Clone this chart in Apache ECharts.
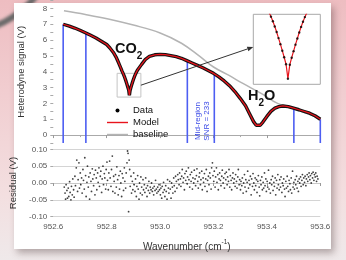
<!DOCTYPE html>
<html>
<head>
<meta charset="utf-8">
<script src="https://cdn.jsdelivr.net/npm/echarts@6/dist/echarts.min.js"></script>
<style>
  html, body { margin: 0; padding: 0; }
  body {
    width: 346px; height: 260px; overflow: hidden; position: relative;
    background: linear-gradient(180deg, #eebdc1 0%, #f1cdd0 35%, #f3dfe0 75%, #efe9ea 100%);
  }
  #arc {
    position: absolute; left: -150px; top: -175px; width: 200px; height: 200px;
    border-radius: 50%; border: 6px solid #6a6a6a; filter: blur(1.5px);
  }
  #panel {
    position: absolute; left: 14px; top: 3px; width: 317px; height: 246px;
    background: #fff; box-shadow: 3px 4px 7px rgba(60, 40, 40, 0.35);
  }
  #chart { position: absolute; left: 0; top: 0; width: 346px; height: 260px; }
</style>
</head>
<body>
<div id="arc"></div>
<div id="panel"></div>
<div id="chart"></div>
<script>
// measured signal / model (V) vs wavenumber (cm-1)
const wavenumber = [952.637, 952.66, 952.68, 952.70, 952.722, 952.74, 952.76, 952.78, 952.80, 952.812,
  952.825, 952.835, 952.845, 952.8525, 952.855, 952.8575, 952.86, 952.8625, 952.865, 952.8675,
  952.87, 952.8725, 952.875, 952.8775, 952.88, 952.8825, 952.885, 952.8875, 952.89, 952.8925,
  952.895, 952.8975, 952.90, 952.9025, 952.905, 952.9075, 952.91, 952.9125, 952.915, 952.92,
  952.93, 952.945, 952.96, 952.98, 953.00, 953.02, 953.04, 953.06, 953.08, 953.10,
  953.12, 953.14, 953.16, 953.18, 953.20, 953.22, 953.24, 953.26, 953.28, 953.30,
  953.32, 953.335, 953.35, 953.36, 953.367, 953.375, 953.385, 953.40, 953.415, 953.43,
  953.445, 953.46, 953.48, 953.50, 953.52, 953.54, 953.56, 953.58, 953.60];
const signal = [7.00, 6.88, 6.76, 6.62, 6.45, 6.30, 6.13, 5.93, 5.72, 5.50,
  5.22, 4.93, 4.55, 4.25, 4.14, 4.04, 3.94, 3.85, 3.75, 3.64,
  3.52, 3.39, 3.26, 3.12, 2.98, 2.83, 2.52, 2.82, 2.97, 3.11,
  3.25, 3.38, 3.51, 3.63, 3.74, 3.84, 3.93, 4.02, 4.10, 4.20,
  4.45, 4.78, 4.97, 5.07, 5.10, 5.08, 5.02, 4.95, 4.85, 4.70,
  4.55, 4.40, 4.25, 4.08, 3.90, 3.68, 3.42, 3.12, 2.75, 2.32,
  1.85, 1.35, 0.85, 0.62, 0.56, 0.62, 0.82, 1.18, 1.50, 1.70,
  1.80, 1.84, 1.80, 1.70, 1.60, 1.49, 1.38, 1.22, 1.00];

// fitted baseline
const baselineWn = [952.64, 952.72, 952.81, 952.90, 953.00, 953.08, 953.15, 953.20, 953.26, 953.31, 953.38, 953.44, 953.52, 953.60];
const baselineVal = [7.85, 7.62, 7.32, 6.95, 6.45, 5.80, 4.95, 4.30, 3.75, 3.26, 2.62, 2.00, 1.55, 1.05];

// blue region markers
const markerWn = [952.637, 952.722, 953.102, 953.203, 953.501, 953.60];
const markerTop = [7.00, 6.45, 4.70, 3.90, 1.70, 1.00];

// zoom box for the CO2 line centre
const zoomWn = [952.839, 952.928];
const zoomSig = [2.4, 3.9];

// residual (V)
const residual = [
[952.641,-0.012],[952.644,-0.030],[952.646,-0.048],[952.648,-0.005],[952.651,-0.022],[952.653,-0.045],[952.656,-0.015],[952.658,-0.040],[952.661,0.004],[952.663,-0.028],[952.666,-0.050],[952.668,-0.010],[952.671,-0.035],[952.673,0.012],[952.676,-0.020],[952.678,-0.042],[952.681,0.020],[952.683,-0.008],[952.686,0.045],[952.688,0.068],[952.691,-0.025],[952.693,0.010],[952.696,0.060],[952.698,-0.015],
[952.701,0.030],[952.703,-0.005],[952.706,0.015],[952.708,-0.030],[952.711,0.040],[952.713,0.008],[952.716,-0.018],[952.718,0.075],[952.721,0.022],[952.723,-0.040],[952.726,0.002],[952.728,0.050],[952.731,-0.012],[952.733,0.018],[952.736,-0.048],[952.738,0.030],[952.741,0.005],[952.743,-0.025],[952.746,0.042],[952.748,0.012],[952.751,-0.008],[952.753,0.025],[952.756,-0.035],[952.758,0.038],[952.761,0.015],[952.763,-0.020],[952.766,0.030],[952.768,0.002],[952.771,0.045],[952.773,-0.010],[952.776,0.020],[952.778,0.035],[952.781,-0.028],[952.783,0.012],[952.786,0.050],[952.788,-0.005],[952.791,0.028],[952.793,0.015],[952.796,-0.018],[952.798,0.040],
[952.801,0.062],[952.803,0.008],[952.806,-0.020],[952.808,0.030],[952.811,0.065],[952.813,0.015],[952.816,-0.010],[952.818,0.040],[952.821,0.080],[952.823,-0.025],[952.826,0.020],[952.828,0.005],[952.831,-0.030],[952.833,0.025],[952.836,-0.012],[952.838,0.048],[952.841,0.010],[952.843,-0.035],[952.846,0.022],[952.848,-0.018],[952.851,0.035],[952.853,0.000],[952.856,-0.040],[952.858,0.028],[952.861,0.015],[952.863,-0.022],[952.866,0.045],[952.868,0.005],[952.871,-0.015],[952.873,0.030],[952.876,0.060],[952.878,0.095],[952.880,0.088],[952.882,-0.085],[952.884,0.068],[952.886,0.040],[952.888,-0.010],[952.891,0.020],[952.893,-0.030],[952.896,0.005],[952.898,-0.020],
[952.901,0.030],[952.903,-0.005],[952.906,-0.025],[952.908,0.012],[952.911,-0.040],[952.913,-0.010],[952.916,0.022],[952.918,-0.018],[952.921,-0.048],[952.923,0.000],[952.926,-0.030],[952.928,0.018],[952.931,-0.012],[952.933,-0.035],[952.936,0.010],[952.938,-0.020],[952.941,-0.005],[952.943,-0.028],[952.946,0.015],[952.948,-0.015],[952.951,-0.040],[952.953,-0.008],[952.956,-0.022],[952.958,0.005],[952.961,-0.030],[952.963,-0.012],[952.966,-0.020],[952.968,0.000],[952.971,-0.025],[952.973,-0.015],[952.976,-0.035],[952.978,-0.010],[952.981,-0.022],[952.983,0.008],[952.986,-0.018],[952.988,-0.030],[952.991,-0.012],[952.993,-0.025],[952.996,-0.005],[952.998,-0.020],[953.001,-0.035],[953.003,-0.015],[953.006,-0.045],[953.008,-0.010],[953.011,-0.028],[953.013,0.002],[953.016,-0.020],[953.018,-0.040],[953.021,-0.008],[953.023,-0.025],[953.026,-0.048],[953.028,0.010],[953.031,-0.015],[953.033,-0.030],[953.036,0.005],[953.038,-0.018],[953.041,-0.045],[953.043,0.000],[953.046,-0.012],[953.048,-0.030],[953.051,0.015],[953.053,-0.008],[953.056,-0.025],[953.058,0.020],
[953.061,0.005],[953.063,-0.015],[953.066,0.025],[953.068,0.010],[953.071,-0.005],[953.073,0.030],[953.076,0.012],[953.078,-0.010],[953.081,0.020],[953.083,0.040],[953.086,0.002],[953.088,0.015],[953.091,-0.020],[953.093,0.028],[953.096,0.008],[953.098,0.035],[953.101,-0.002],[953.103,0.018],[953.106,0.045],[953.108,0.010],[953.111,-0.012],[953.113,0.025],[953.116,0.005],[953.118,0.032],[953.121,-0.018],[953.123,0.015],[953.126,0.000],[953.128,0.038],[953.131,0.012],[953.133,-0.008],[953.136,0.022],[953.138,0.042],[953.141,0.005],[953.143,-0.015],[953.146,0.018],[953.148,0.030],[953.151,-0.005],[953.153,0.010],[953.156,0.035],[953.158,-0.020],[953.161,0.015],[953.163,0.002],[953.166,0.028],[953.168,-0.010],[953.171,0.012],[953.173,0.040],[953.176,-0.025],[953.178,0.008],[953.181,0.020],[953.183,-0.005],[953.186,0.030],[953.188,0.015],[953.191,-0.018],[953.193,0.045],[953.196,0.060],[953.198,0.022],[953.201,0.005],[953.203,0.035],[953.206,-0.012],[953.208,0.018],[953.211,0.045],[953.213,0.002],[953.216,0.025],[953.218,-0.020],[953.221,0.012],[953.223,0.030],[953.226,0.008],[953.228,-0.008],[953.231,0.020],[953.233,0.038],[953.236,0.000],[953.238,0.015],[953.241,-0.015],[953.243,0.028],[953.246,0.010],[953.248,0.032],[953.251,-0.005],[953.253,0.018],[953.256,0.005],[953.258,0.040],[953.261,-0.012],[953.263,0.022],[953.266,0.008],[953.268,-0.020],[953.271,0.015],[953.273,0.030],[953.276,0.000],[953.278,0.012],[953.281,-0.010],[953.283,0.025],[953.286,0.005],[953.288,-0.015],[953.291,0.018],[953.293,0.040],[953.296,-0.005],[953.298,0.010],
[953.301,-0.020],[953.303,0.005],[953.306,-0.008],[953.308,0.015],[953.311,-0.030],[953.313,0.000],[953.316,0.025],[953.318,-0.012],[953.321,0.010],[953.323,-0.025],[953.326,0.002],[953.328,0.035],[953.331,-0.015],[953.333,0.008],[953.336,-0.005],[953.338,0.020],[953.341,-0.035],[953.343,0.012],[953.346,-0.010],[953.348,0.028],[953.351,0.000],[953.353,-0.020],[953.356,0.015],[953.358,-0.008],[953.361,0.010],[953.363,-0.028],[953.366,0.005],[953.368,0.022],[953.371,-0.012],[953.373,-0.038],[953.376,0.008],[953.378,-0.005],[953.381,0.018],[953.383,-0.020],[953.386,0.002],[953.388,-0.015],[953.391,0.030],[953.393,-0.008],[953.396,0.012],[953.398,-0.025],[953.401,0.005],[953.403,-0.012],[953.406,0.038],[953.408,-0.018],[953.411,0.000],[953.413,-0.030],[953.416,0.010],[953.418,-0.005],[953.421,0.020],[953.423,-0.022],[953.426,0.002],[953.428,-0.010],[953.431,0.015],[953.433,-0.035],[953.436,0.008],[953.438,-0.015],[953.441,0.025],[953.443,-0.005],[953.446,-0.020],[953.448,0.010],[953.451,-0.012],[953.453,0.018],[953.456,-0.028],[953.458,0.000],[953.461,-0.008],[953.463,0.012],[953.466,-0.018],[953.468,-0.040],[953.471,0.005],[953.473,-0.015],[953.476,0.020],[953.478,-0.010],[953.481,-0.025],[953.483,0.008],[953.486,-0.002],[953.488,-0.020],[953.491,0.015],[953.493,-0.030],[953.496,0.035],[953.498,-0.012],[953.501,0.002],[953.503,-0.018],[953.506,0.010],[953.508,-0.005],[953.511,0.020],[953.513,-0.015],[953.516,0.005],[953.518,-0.025],[953.521,0.012],[953.523,0.000],[953.526,0.018],[953.528,-0.010],[953.531,0.008],[953.533,0.025],[953.536,-0.005],[953.538,0.015],[953.541,0.002],[953.543,0.020],[953.546,-0.008],[953.548,0.012],
[953.551,0.025],[953.553,0.005],[953.556,0.018],[953.558,0.030],[953.561,0.010],[953.563,0.022],[953.566,0.000],[953.568,0.028],[953.571,0.015],[953.573,0.032],[953.576,0.008],[953.578,0.025],[953.581,0.018],[953.583,0.030],[953.586,0.005],[953.588,0.020],[953.591,0.012]
];

const FONT = 'Liberation Sans, Arial, sans-serif';
const LINE_ICON = 'path://M0,0L24,0L24,1.6L0,1.6Z';
const chart = echarts.init(document.getElementById('chart'), null, {renderer: 'canvas'});

const sigData = wavenumber.map((w, i) => [w, signal[i]]);
const baseData = baselineWn.map((w, i) => [w, baselineVal[i]]);

const option = {
    animation: false,
    textStyle: {fontFamily: FONT},
    legend: {
        orient: 'vertical',
        left: 102, top: 100,
        itemWidth: 21, itemHeight: 4, itemGap: 1,
        textStyle: {fontSize: 9.5, color: '#111', lineHeight: 11},
        data: [{name: 'Data', icon: 'circle'}, {name: 'Model', icon: LINE_ICON}, {name: 'baseline', icon: LINE_ICON}]
    },
    grid: [
        {left: 53.3, top: 0.5, width: 267, height: 142.5},
        {left: 53.3, top: 149.3, width: 267, height: 67.4},
        {left: 253.3, top: 14.3, width: 67, height: 70, show: true, borderColor: '#a8a8a8', borderWidth: 1, backgroundColor: '#fff', z: 5}
    ],
    xAxis: [
        {
            gridIndex: 0, type: 'value', min: 952.6, max: 953.6, interval: 0.2,
            axisLine: {lineStyle: {color: '#aaa'}},
            axisTick: {length: 3, lineStyle: {color: '#999'}},
            minorTick: {show: true, splitNumber: 2, length: 2, lineStyle: {color: '#aaa'}},
            axisLabel: {show: false},
            splitLine: {show: false}
        },
        {
            gridIndex: 1, type: 'value', min: 952.6, max: 953.6, interval: 0.2,
            axisLine: {lineStyle: {color: '#c8c8c8'}},
            axisTick: {length: 3, lineStyle: {color: '#999'}},
            minorTick: {show: true, splitNumber: 2, length: 2, lineStyle: {color: '#aaa'}},
            axisLabel: {fontSize: 8, color: '#555', margin: 6, formatter: v => v.toFixed(1)},
            splitLine: {show: false},
            name: '{a|Wavenumber (cm}{s|-1}{a|)}',
            nameLocation: 'middle', nameGap: 22,
            nameTextStyle: {
                rich: {
                    a: {fontSize: 10, color: '#333', fontFamily: FONT, lineHeight: 14, verticalAlign: 'bottom'},
                    s: {fontSize: 6.5, color: '#333', fontFamily: FONT, lineHeight: 14, verticalAlign: 'top'}
                }
            }
        },
        {gridIndex: 2, type: 'value', min: zoomWn[0], max: zoomWn[1], show: false}
    ],
    yAxis: [
        {
            gridIndex: 0, type: 'value', min: -0.5, max: 8.5, interval: 0.5,
            axisLine: {show: false},
            axisTick: {show: true, length: 3, lineStyle: {color: '#aaa'}},
            axisLabel: {fontSize: 8, color: '#555', margin: 6, formatter: v => Number.isInteger(v) ? String(v) : ''},
            splitLine: {show: false},
            name: 'Heterodyne signal (V)', nameLocation: 'middle', nameGap: 27,
            nameTextStyle: {fontSize: 9.5, color: '#333'}
        },
        {
            gridIndex: 1, type: 'value', min: -0.1, max: 0.1, interval: 0.05,
            axisLine: {show: false},
            axisTick: {show: true, length: 3, lineStyle: {color: '#aaa'}},
            axisLabel: {fontSize: 8, color: '#555', margin: 6, formatter: v => v.toFixed(2)},
            splitLine: {show: true, lineStyle: {color: '#d4d4d4'}},
            name: 'Residual (V)', nameLocation: 'middle', nameGap: 27,
            nameTextStyle: {fontSize: 9.5, color: '#333'}
        },
        {gridIndex: 2, type: 'value', min: zoomSig[0], max: zoomSig[1], show: false}
    ],
    series: [
        {
            type: 'custom', xAxisIndex: 0, yAxisIndex: 0, silent: true, z: 1,
            data: markerWn.map((w, i) => [w, markerTop[i]]),
            renderItem: function (params, api) {
                const top = api.coord([api.value(0), api.value(1)]);
                const bot = api.coord([api.value(0), -0.5]);
                return {
                    type: 'line',
                    shape: {x1: top[0], y1: top[1], x2: bot[0], y2: bot[1]},
                    style: {stroke: '#4d5ef2', lineWidth: 1.6}
                };
            }
        },
        {
            name: 'baseline', type: 'line', xAxisIndex: 0, yAxisIndex: 0, z: 2,
            data: baseData, smooth: 0.4, symbol: 'none', color: '#b4b4b4',
            lineStyle: {width: 1.5, color: '#b4b4b4'}
        },
        {
            name: 'Data', type: 'line', xAxisIndex: 0, yAxisIndex: 0, z: 3,
            data: sigData, symbol: 'none', color: '#000',
            lineStyle: {width: 3.4, color: '#111'},
            markArea: {
                silent: true,
                itemStyle: {color: 'rgba(0,0,0,0)', borderColor: '#c4c4c4', borderWidth: 1},
                data: [[{coord: [zoomWn[0], zoomSig[0]]}, {coord: [zoomWn[1], zoomSig[1]]}]]
            }
        },
        {
            name: 'Model', type: 'line', xAxisIndex: 0, yAxisIndex: 0, z: 4,
            data: sigData, symbol: 'none', color: '#e8141c',
            lineStyle: {width: 1.3, color: '#e8141c'}
        },
        {
            name: 'Model', type: 'line', xAxisIndex: 2, yAxisIndex: 2, z: 6,
            data: sigData, symbol: 'none', color: '#e8141c', clip: true,
            lineStyle: {width: 1.2, color: '#e8141c'}
        },
        {
            name: 'Data', type: 'scatter', xAxisIndex: 2, yAxisIndex: 2, z: 7,
            data: sigData, symbolSize: 2.4, color: '#000', clip: true
        },
        {
            name: 'Data', type: 'scatter', xAxisIndex: 1, yAxisIndex: 1, z: 3,
            data: residual, symbolSize: 1.8, color: '#000',
            itemStyle: {color: '#111'}
        }
    ]
};

chart.setOption(option);

// annotations: species labels, SNR note, arrow to the inset
const a = chart.convertToPixel({gridIndex: 0}, [zoomWn[1], 3.15]);
const b = chart.convertToPixel({gridIndex: 2}, [zoomWn[0], 3.2]);
const ang = Math.atan2(b[1] - a[1], b[0] - a[0]);
const head = 6, half = 2.4;
const bx = b[0] - head * Math.cos(ang), by = b[1] - head * Math.sin(ang);

chart.setOption({
    graphic: [
        {
            type: 'line', z: 10, silent: true,
            shape: {x1: a[0], y1: a[1], x2: bx, y2: by},
            style: {stroke: '#333', lineWidth: 1}
        },
        {
            type: 'polygon', z: 10, silent: true,
            shape: {points: [b, [bx - half * Math.sin(ang), by + half * Math.cos(ang)], [bx + half * Math.sin(ang), by - half * Math.cos(ang)]]},
            style: {fill: '#333'}
        },
        {
            type: 'text', left: 115, top: 41, z: 10,
            style: {
                text: '{b|CO}{s|2}',
                rich: {
                    b: {fontSize: 14.5, fontWeight: 'bold', fill: '#111', fontFamily: FONT, lineHeight: 20, verticalAlign: 'top'},
                    s: {fontSize: 10, fontWeight: 'bold', fill: '#111', fontFamily: FONT, lineHeight: 20, verticalAlign: 'bottom'}
                }
            }
        },
        {
            type: 'text', left: 248, top: 88, z: 10,
            style: {
                text: '{b|H}{s|2}{b|O}',
                rich: {
                    b: {fontSize: 14.5, fontWeight: 'bold', fill: '#111', fontFamily: FONT, lineHeight: 20, verticalAlign: 'top'},
                    s: {fontSize: 10, fontWeight: 'bold', fill: '#111', fontFamily: FONT, lineHeight: 20, verticalAlign: 'bottom'}
                }
            }
        },
        {
            type: 'text', x: 202, y: 121, rotation: Math.PI / 2, z: 10,
            style: {
                text: 'Mid-region\nSNR = 233', fontSize: 8, lineHeight: 9, fill: '#3b4ae6',
                fontFamily: FONT, align: 'center', verticalAlign: 'middle'
            }
        }
    ]
});

window.addEventListener('resize', function () {
    chart.resize();
});
</script>
</body>
</html>
